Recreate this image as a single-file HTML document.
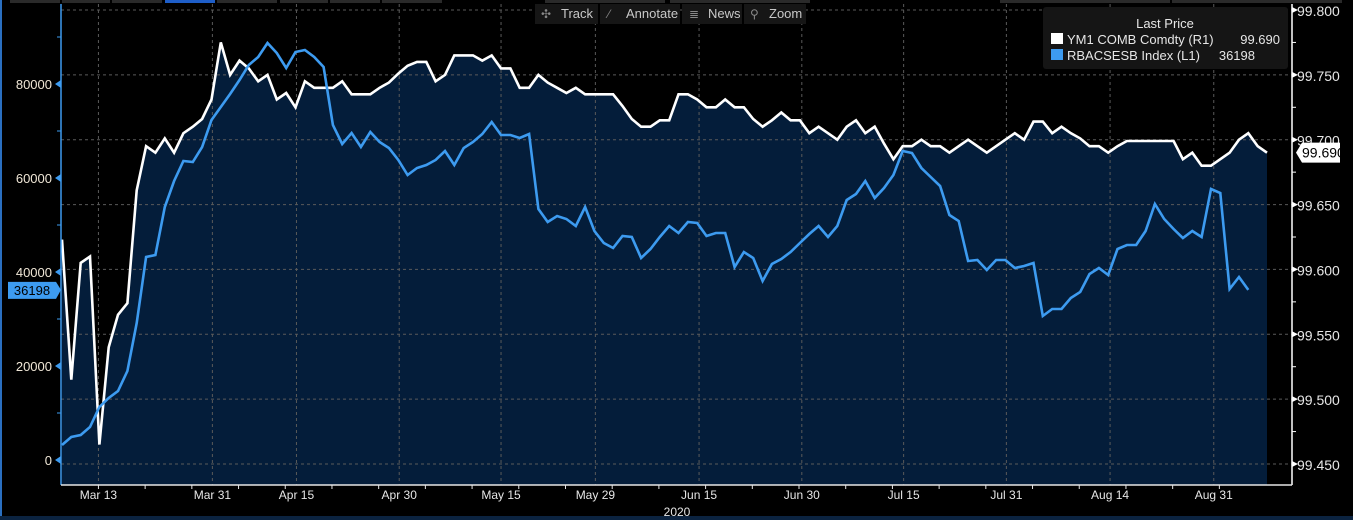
<!DOCTYPE html>
<html><head><meta charset="utf-8"><style>
html,body{margin:0;padding:0;background:#000;width:1353px;height:520px;overflow:hidden;font-family:"Liberation Sans",sans-serif}
svg{display:block}
text{font-family:"Liberation Sans",sans-serif}
</style></head><body>
<svg id="chart" width="1353" height="520" viewBox="0 0 1353 520" xmlns="http://www.w3.org/2000/svg">
<rect x="0" y="0" width="1353" height="520" fill="#000"/>
<rect x="0" y="0" width="2" height="520" fill="#2a6fc0"/>
<rect x="0" y="516" width="1353" height="4" fill="#0b2340"/>
<g>
<rect x="10" y="0" width="50" height="3" fill="#2a2a2a"/><rect x="62" y="0" width="48" height="3" fill="#2a2a2a"/><rect x="112" y="0" width="50" height="3" fill="#2a2a2a"/>
<rect x="165" y="0" width="50" height="3" fill="#1e5ec8"/>
<rect x="217" y="0" width="60" height="3" fill="#2a2a2a"/><rect x="280" y="0" width="48" height="3" fill="#2a2a2a"/><rect x="330" y="0" width="50" height="3" fill="#2a2a2a"/><rect x="382" y="0" width="60" height="3" fill="#2a2a2a"/>
<rect x="545" y="0" width="120" height="3" fill="#2a2a2a"/><rect x="670" y="0" width="140" height="3" fill="#2a2a2a"/><rect x="1000" y="0" width="170" height="3" fill="#2a2a2a"/><rect x="1172" y="0" width="170" height="3" fill="#2a2a2a"/>
</g>
<g id="plot"></g>
<g>
<rect x="535" y="4" width="63" height="20" fill="#161616"/>
<rect x="600" y="4" width="80" height="20" fill="#161616"/>
<rect x="682" y="4" width="60" height="20" fill="#161616"/>
<rect x="744" y="4" width="62" height="20" fill="#161616"/>
<text x="541" y="18" font-size="12" fill="#888">✣</text><text x="561" y="18" font-size="13" fill="#c8c8c8">Track</text>
<text x="608" y="18" font-size="12" fill="#888">⁄</text><text x="626" y="18" font-size="13" fill="#c8c8c8">Annotate</text>
<text x="689" y="18" font-size="12" fill="#888">≣</text><text x="708" y="18" font-size="13" fill="#c8c8c8">News</text>
<text x="750" y="18" font-size="12" fill="#888">⚲</text><text x="769" y="18" font-size="13" fill="#c8c8c8">Zoom</text>
</g>
<g>
<rect x="1043" y="7" width="245" height="62" rx="3" fill="#151515"/>
<text x="1165" y="28" font-size="13" fill="#e6e6e6" text-anchor="middle">Last Price</text>
<rect x="1051" y="33" width="12" height="11" fill="#fff"/>
<text x="1067" y="44" font-size="13" fill="#e6e6e6">YM1 COMB Comdty  (R1)</text>
<text x="1280" y="44" font-size="13" fill="#e6e6e6" text-anchor="end">99.690</text>
<rect x="1051" y="49" width="12" height="11" fill="#3d9bf0"/>
<text x="1067" y="60" font-size="13" fill="#e6e6e6">RBACSESB Index  (L1)</text>
<text x="1255" y="60" font-size="13" fill="#e6e6e6" text-anchor="end">36198</text>
</g>
</svg>
<script>
const whiteValues=[99.623,99.515,99.605,99.610,99.465,99.540,99.565,99.574,99.661,99.695,99.690,99.701,99.690,99.705,99.710,99.716,99.731,99.775,99.750,99.761,99.755,99.745,99.750,99.731,99.736,99.725,99.745,99.740,99.740,99.740,99.745,99.735,99.735,99.735,99.740,99.744,99.751,99.757,99.760,99.760,99.745,99.750,99.765,99.765,99.765,99.761,99.765,99.755,99.755,99.740,99.740,99.750,99.744,99.740,99.736,99.740,99.735,99.735,99.735,99.735,99.726,99.716,99.710,99.710,99.715,99.715,99.735,99.735,99.731,99.725,99.725,99.731,99.725,99.725,99.716,99.710,99.715,99.721,99.715,99.715,99.705,99.710,99.705,99.700,99.710,99.715,99.705,99.710,99.697,99.685,99.695,99.695,99.700,99.695,99.695,99.690,99.695,99.700,99.695,99.690,99.695,99.700,99.705,99.700,99.714,99.714,99.705,99.710,99.705,99.701,99.695,99.695,99.690,99.695,99.699,99.699,99.699,99.699,99.699,99.699,99.685,99.690,99.680,99.680,99.685,99.690,99.700,99.705,99.695,99.690];
const blueValues=[3190,4890,5320,7020,11280,13190,14680,18940,29150,43190,43620,53830,59360,63620,63400,66600,72340,75110,77870,80850,84040,85750,88720,86600,83400,86810,87230,85750,83620,71280,67230,69570,66600,69790,67660,66380,63830,60640,62130,62770,63830,65740,62770,66380,67660,69360,71910,69150,69150,68510,69360,53400,50640,51910,51280,49790,53830,48720,46170,45110,47660,47450,42980,44890,47450,49790,48300,50640,50430,47660,48300,48300,41060,44260,42980,38090,41700,42770,44260,46170,48090,49790,47450,49790,55320,56600,59360,55740,57870,60640,65740,65320,62130,60210,58300,52130,50850,42340,42550,40430,42550,42550,40850,41280,41910,30640,32130,32130,34470,35740,39570,40850,39360,44890,45740,45740,48720,54470,51280,49150,47230,48720,47450,57660,56810,36380,38940,36198];
const dateLabels=["Mar 13","Mar 31","Apr 15","Apr 30","May 15","May 29","Jun 15","Jun 30","Jul 15","Jul 31","Aug 14","Aug 31"];
const dateIndex=[3.9,16.1,25.1,36.1,47.0,57.1,68.2,79.2,90.1,101.1,112.2,123.3];
const rightTicks=[99.800,99.750,99.700,99.650,99.600,99.550,99.500,99.450];
const leftTicks=[0,20000,40000,60000,80000];

const PL=61,PR=1292,PT=4,PB=485;
const nW=whiteValues.length;
const xS=i=>62+i*(1267-62)/(nW-1);
const yR=v=>10+(99.800-v)/0.35*454;
const yL=v=>460-v*0.0047;
const NS="http://www.w3.org/2000/svg";
const plot=document.getElementById('plot');
function mk(tag,attrs,parent){const e=document.createElementNS(NS,tag);for(const k in attrs)e.setAttribute(k,attrs[k]);(parent||plot).appendChild(e);return e;}

// fill under white
let pts=whiteValues.map((v,i)=>xS(i).toFixed(1)+','+yR(v).toFixed(1));
const fill=mk('polygon',{points:xS(0)+','+PB+' '+pts.join(' ')+' '+xS(nW-1)+','+PB,fill:'#041d3a'});



// grid
rightTicks.forEach(v=>{const g=mk('line',{x1:PL,x2:PR,y1:yR(v),y2:yR(v),stroke:'#5a5a5a','stroke-dasharray':'3,3','stroke-width':1});

});
dateIndex.forEach(d=>{const g=mk('line',{x1:xS(d),x2:xS(d),y1:PT,y2:PB,stroke:'#5a5a5a','stroke-dasharray':'3,3','stroke-width':1});

});

// series
const wl=mk('polyline',{points:pts.join(' '),fill:'none',stroke:'#fff','stroke-width':2.6,'stroke-linejoin':'miter'});


const bl=mk('polyline',{points:blueValues.map((v,i)=>xS(i).toFixed(1)+','+yL(v).toFixed(1)).join(' '),fill:'none',stroke:'#3d9bf0','stroke-width':2.6});



// left axis
const la=mk('line',{x1:PL,x2:PL,y1:PT,y2:PB,stroke:'#3d9bf0','stroke-width':1.5});


for(let v=-10000;v<=100000;v+=10000){const y=yL(v);if(y<PT||y>PB)continue;mk('line',{x1:PL-4,x2:PL,y1:y,y2:y,stroke:'#3d9bf0'});}
leftTicks.forEach(v=>{const y=yL(v);
mk('polygon',{points:`${PL-6},${y} ${PL},${y-4} ${PL},${y+4}`,fill:'#3d9bf0'});
const t=mk('text',{x:PL-9,y:y+5,'font-size':13,fill:'#efe6d6','text-anchor':'end'});t.textContent=v;

});
const lb=mk('rect',{x:8,y:yL(blueValues[blueValues.length-1])-8,width:48,height:17,fill:'#3d9bf0'});


mk('polygon',{points:`56,${yL(36198)-8} 61,${yL(36198)} 56,${yL(36198)+9}`,fill:'#3d9bf0'});
const lbt=mk('text',{x:32,y:yL(36198)+5,'font-size':13,fill:'#000','text-anchor':'middle'});lbt.textContent=blueValues[blueValues.length-1];

// right axis
const ra=mk('line',{x1:PR,x2:PR,y1:PT,y2:PB,stroke:'#fff','stroke-width':1.5});


for(let v=99.825;v>=99.44;v-=0.025){const y=yR(v);if(y<PT||y>PB)continue;mk('line',{x1:PR,x2:PR+4,y1:y,y2:y,stroke:'#fff'});}
rightTicks.forEach(v=>{const y=yR(v);
mk('polygon',{points:`${PR},${y-3} ${PR+6},${y} ${PR},${y+3}`,fill:'#fff'});
const t=mk('text',{x:PR+5,y:y+6,'font-size':14,fill:'#e6e6e6'});t.textContent=v.toFixed(3);

});
const ly=yR(whiteValues[nW-1]);
const rb=mk('polygon',{points:`${PR+4},${ly} ${PR+10},${ly-10} ${PR+48},${ly-10} ${PR+48},${ly+10} ${PR+10},${ly+10}`,fill:'#fff'});


const rbt=mk('text',{x:PR+10,y:ly+5,'font-size':14,fill:'#000'});rbt.textContent=whiteValues[nW-1].toFixed(3);

// bottom axis
const ba=mk('line',{x1:PL,x2:PR,y1:PB,y2:PB,stroke:'#e6e6e6','stroke-width':1.5});


for(let i=0;i<nW;i+=5){const x=xS(i-1.1);if(x<PL)continue;mk('line',{x1:x,x2:x,y1:PB,y2:PB+4,stroke:'#e6e6e6'});}
dateLabels.forEach((s,k)=>{const t=mk('text',{x:xS(dateIndex[k]),y:PB+14,'font-size':12,fill:'#e6e6e6','text-anchor':'middle'});t.textContent=s;

});
const yr=mk('text',{x:677,y:516,'font-size':12,fill:'#e6e6e6','text-anchor':'middle'});yr.textContent='2020';


</script>
</body></html>
